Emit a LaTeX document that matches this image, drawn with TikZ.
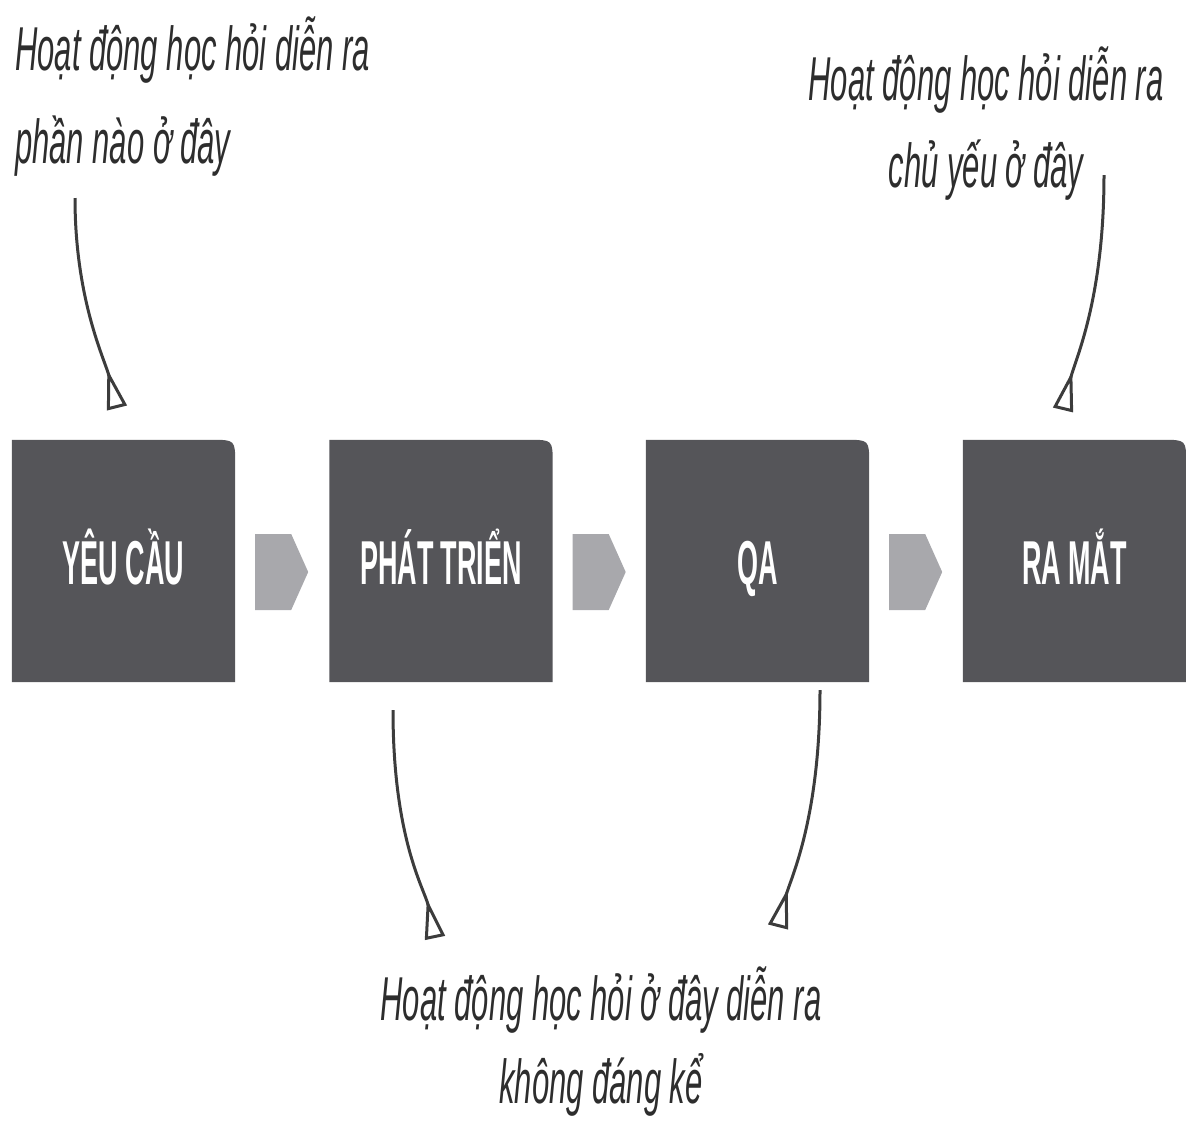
\documentclass[tikz,border=0pt]{standalone}
\usepackage{fontspec}
\setmainfont{Liberation Sans}
\newfontfamily\annfont[FakeStretch=0.5]{Liberation Sans}
\newfontfamily\lblfont[FakeStretch=0.435]{Liberation Sans}
\usetikzlibrary{arrows.meta,backgrounds,calc}
\definecolor{boxgray}{RGB}{85,85,89}
\definecolor{arrgray}{RGB}{168,168,172}
\definecolor{txtgray}{RGB}{45,45,45}
\definecolor{linegray}{RGB}{60,60,60}
\begin{document}
\begin{tikzpicture}[x=1pt,y=-1pt,
  stage/.style={minimum width=223pt, minimum height=242pt, inner sep=0pt,
    text=white, font=\lblfont\bfseries\fontsize{62}{62}\selectfont,
    text height=46pt, text depth=0pt},
  note/.style={text=txtgray, inner sep=0pt},
  notefont/.style={font=\annfont\itshape\fontsize{62}{#1}\selectfont},
  link/.style={draw=linegray, line width=3pt,
    -{Triangle[open, reversed, length=40pt, width=20pt, line width=3pt]}},
  flow/.style={fill=arrgray}
]
\useasboundingbox (0,0) rectangle (1186,1120);

% stage boxes
\node[stage] (b1) at (123.5,561) {YÊU CẦU};
\node[stage] (b2) at (441,561) {PHÁT TRIỂN};
\node[stage] (b3) at (757.5,561) {QA};
\node[stage] (b4) at (1074.5,561) {RA MẮT};

\begin{scope}[on background layer]
\foreach \n in {b1,b2,b3,b4}{
  \fill[boxgray] (\n.south west) -- (\n.north west)
    -- ([xshift=-24pt]\n.north east)
    .. controls (\n.north east) .. ([yshift=-24pt]\n.north east)
    -- (\n.south east) -- cycle;
}
\end{scope}

% flow arrows between stages
\foreach \a/\b in {b1/b2,b2/b3,b3/b4}{
  \fill[flow] ($(\a.east)+(20,-27)$) -- ($(\a.east)+(56,-27)$)
    -- ($(\a.east)+(73,11)$) -- ($(\a.east)+(56,49)$)
    -- ($(\a.east)+(20,49)$) -- cycle;
}

% notes (base anchor = baseline of the last line)
\node[note, notefont=93, anchor=base west, align=left] (n1) at (15,163)
  {Hoạt động học hỏi diễn ra\\phần nào ở đây};
\node[note, notefont=87, anchor=base, align=center] (n2) at (986,187)
  {Hoạt động học hỏi diễn ra\\chủ yếu ở đây};
\node[note, notefont=83, anchor=base, align=center] (n3) at (601,1103)
  {Hoạt động học hỏi ở đây diễn ra\\không đáng kể};

% connectors
\coordinate (s1) at (75,198);
\coordinate (t1) at (117,408);
\coordinate (s2) at (1104,175);
\coordinate (t2) at (1063,410);
\coordinate (s3) at ($(b2.south)+(-48,28)$);
\coordinate (t3) at (435,938);
\coordinate (s4) at ($(b3.south)+(62.5,8)$);
\coordinate (t4) at (778,927);

\draw[link] (s1) .. controls (75,300) and (105,360) .. (t1);
\draw[link] (s2) .. controls (1104,300) and (1075,360) .. (t2);
\draw[link] (s3) .. controls (393,840) and (425,890) .. (t3);
\draw[link] (s4) .. controls (820,820) and (790,880) .. (t4);
\end{tikzpicture}
\end{document}
